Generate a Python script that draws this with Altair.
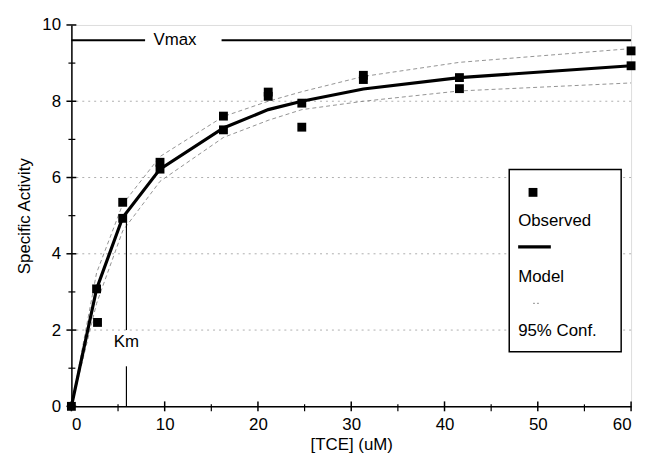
import altair as alt
import pandas as pd

FONT = "Liberation Sans"
FS = 17

# Observed data
obs_x = [0, 2.7, 2.8, 5.5, 5.5, 9.5, 9.5, 16.3, 16.3, 21.1, 21.1, 24.7, 24.7, 31.3, 31.3, 41.6, 41.6, 60, 60]
obs_y = [0, 3.08, 2.2, 5.35, 4.93, 6.4, 6.22, 7.61, 7.25, 8.13, 8.24, 7.95, 7.32, 8.57, 8.68, 8.62, 8.33, 9.32, 8.93]

# Model fit and 95% confidence bands
model_x = [0, 2.7, 5.5, 9.5, 16.3, 21.1, 24.7, 31.3, 41.6, 60]
model_y = [0, 3.08, 4.95, 6.22, 7.3, 7.78, 8.0, 8.32, 8.62, 8.93]
upper_y = [0, 3.5, 5.3, 6.55, 7.6, 8.0, 8.25, 8.65, 9.02, 9.38]
lower_y = [0, 2.7, 4.6, 5.9, 7.05, 7.5, 7.78, 8.0, 8.27, 8.48]

vmax = 9.6
km = 5.9
grid_y = [2, 4, 6, 8]
x_major = [0, 10, 20, 30, 40, 50, 60]
x_minor = [5, 15, 25, 35, 45, 55]
y_major = [0, 2, 4, 6, 8, 10]
y_minor = [1, 3, 5, 7, 9]

W, H = 565, 385

xs = alt.Scale(domain=[0, 60], nice=False, zero=False)
ys = alt.Scale(domain=[0, 10], nice=False, zero=False)

obs = pd.DataFrame({"x": obs_x, "y": obs_y})
model = pd.DataFrame({"x": model_x, "y": model_y, "up": upper_y, "lo": lower_y})
one = alt.Data(values=[{"a": 1}])

xaxis = alt.Axis(values=x_major, ticks=False, grid=False, domainColor="black", domainWidth=1.5,
                 labelFont=FONT, labelFontSize=FS, labelColor="black", labelPadding=10,
                 title="[TCE] (uM)", titleFont=FONT, titleFontSize=FS, titleFontWeight="normal",
                 titleColor="black", titleBaseline="top", titleY=31)
yaxis = alt.Axis(values=y_major, ticks=False, grid=False, domainColor="black", domainWidth=1.5,
                 labelFont=FONT, labelFontSize=FS, labelColor="black", labelPadding=11,
                 title="Specific Activity", titleFont=FONT, titleFontSize=FS, titleFontWeight="normal",
                 titleColor="black", titleBaseline="middle", titleX=-47, titleY=H / 2)

grid = alt.Chart(pd.DataFrame({"y": grid_y})).mark_rule(color="#999", strokeWidth=0.8, strokeDash=[2, 4]).encode(
    y=alt.Y("y:Q", scale=ys, axis=yaxis)
)

base_m = alt.Chart(model)
upper = base_m.mark_line(color="#777", strokeWidth=0.8, strokeDash=[4, 3]).encode(
    x=alt.X("x:Q", scale=xs, axis=xaxis), y=alt.Y("up:Q", scale=ys))
lower = base_m.mark_line(color="#777", strokeWidth=0.8, strokeDash=[4, 3]).encode(
    x=alt.X("x:Q", scale=xs), y=alt.Y("lo:Q", scale=ys))
mline = base_m.mark_line(color="black", strokeWidth=3.2).encode(
    x=alt.X("x:Q", scale=xs), y=alt.Y("y:Q", scale=ys))

points = alt.Chart(obs).mark_square(color="black", opacity=1, size=80).encode(
    x=alt.X("x:Q", scale=xs), y=alt.Y("y:Q", scale=ys))

vmax_df = pd.DataFrame({"x": [0, 16.1], "x2": [7.9, 60], "y": [vmax, vmax]})
vmax_line = alt.Chart(vmax_df).mark_rule(color="black", strokeWidth=2).encode(
    x=alt.X("x:Q", scale=xs), x2="x2:Q", y=alt.Y("y:Q", scale=ys))
vmax_text = alt.Chart(pd.DataFrame({"x": [11.1], "y": [vmax], "t": ["Vmax"]})).mark_text(
    font=FONT, fontSize=FS, color="black", align="center", baseline="middle").encode(
    x=alt.X("x:Q", scale=xs), y=alt.Y("y:Q", scale=ys), text="t:N")

km_df = pd.DataFrame({"x": [km, km], "y": [0, 2.0], "y2": [1.05, 4.95]})
km_line = alt.Chart(km_df).mark_rule(color="black", strokeWidth=1.2).encode(
    x=alt.X("x:Q", scale=xs), y=alt.Y("y:Q", scale=ys), y2="y2:Q")
km_text = alt.Chart(pd.DataFrame({"x": [km], "y": [1.68], "t": ["Km"]})).mark_text(
    font=FONT, fontSize=FS, color="black", align="center", baseline="middle").encode(
    x=alt.X("x:Q", scale=xs), y=alt.Y("y:Q", scale=ys), text="t:N")

# ticks crossing the axes
xt_major = alt.Chart(pd.DataFrame({"x": x_major})).mark_rule(color="black", strokeWidth=1.5).encode(
    x=alt.X("x:Q", scale=xs), y=alt.value(H - 5), y2=alt.value(H + 5))
xt_minor = alt.Chart(pd.DataFrame({"x": x_minor})).mark_rule(color="black", strokeWidth=1.2).encode(
    x=alt.X("x:Q", scale=xs), y=alt.value(H - 2), y2=alt.value(H + 5))
yt_major = alt.Chart(pd.DataFrame({"y": y_major})).mark_rule(color="black", strokeWidth=1.5).encode(
    y=alt.Y("y:Q", scale=ys), x=alt.value(-5), x2=alt.value(5))
yt_minor = alt.Chart(pd.DataFrame({"y": y_minor})).mark_rule(color="black", strokeWidth=1.2).encode(
    y=alt.Y("y:Q", scale=ys), x=alt.value(-3), x2=alt.value(4))

# legend (drawn manually)
lx0, ly0 = 442, 146
leg_box = alt.Chart(one).mark_rect(fill="white", stroke="black", strokeWidth=1.5).encode(
    x=alt.value(lx0), x2=alt.value(lx0 + 113), y=alt.value(ly0), y2=alt.value(ly0 + 184))
leg_sq = alt.Chart(one).mark_square(color="black", opacity=1, size=80).encode(
    x=alt.value(lx0 + 24), y=alt.value(ly0 + 23))
leg_line = alt.Chart(one).mark_rule(color="black", strokeWidth=3.2).encode(
    x=alt.value(lx0 + 9), x2=alt.value(lx0 + 42), y=alt.value(ly0 + 78))
leg_dash = alt.Chart(one).mark_rule(color="#777", strokeWidth=0.8, strokeDash=[2, 2]).encode(
    x=alt.value(lx0 + 24), x2=alt.value(lx0 + 30), y=alt.value(ly0 + 135))
leg_txt = alt.Chart(pd.DataFrame({
    "t": ["Observed", "Model", "95% Conf."],
    "py": [ly0 + 52, ly0 + 108, ly0 + 163],
})).mark_text(font=FONT, fontSize=FS, color="black", align="left", baseline="middle").encode(
    x=alt.value(lx0 + 9), y=alt.Y("py:Q", scale=None), text="t:N")

chart = alt.layer(
    grid, upper, lower, mline, km_line, km_text, vmax_line, vmax_text, points,
    xt_major, xt_minor, yt_major, yt_minor,
    leg_box, leg_sq, leg_line, leg_dash, leg_txt,
).properties(
    width=W, height=H,
    padding={"left": 64, "top": 15, "right": 8, "bottom": 48},
    autosize=alt.AutoSizeParams(type="none"),
).configure_view(stroke="black", strokeWidth=1.5).configure(background="white")

chart.save("out.html", embed_options={"renderer": "svg", "actions": False})
